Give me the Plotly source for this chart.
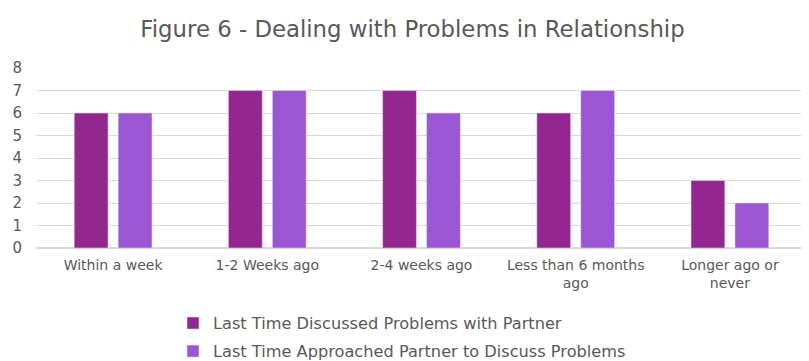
import plotly.graph_objects as go

categories = ["Within a week", "1-2 Weeks ago", "2-4 weeks ago", "Less than 6 months<br>ago", "Longer ago or<br>never"]
discussed = [6, 7, 7, 6, 3]
approached = [6, 7, 6, 7, 2]
series_names = ["Last Time Discussed Problems with Partner", "Last Time Approached Partner to Discuss Problems"]
colors = ["#93278F", "#9B57D3"]

fig = go.Figure()
fig.add_trace(go.Bar(x=categories, y=discussed, name=series_names[0], marker_color=colors[0], legendgroup="a"))
fig.add_trace(go.Bar(x=categories, y=approached, name=series_names[1], marker_color=colors[1], legendgroup="b"))

font_family = "'DejaVu Sans', sans-serif"
fig.update_layout(
    width=809, height=361,
    paper_bgcolor="white", plot_bgcolor="white",
    margin=dict(l=28, r=10, t=60, b=121, autoexpand=False),
    title=dict(text="Figure 6 - Dealing with Problems in Relationship", x=0.5, xanchor="center",
               y=0.995, yanchor="top", pad=dict(t=11),
               font=dict(family=font_family, size=22.8, color="#595959")),
    barmode="group", bargap=0.43, bargroupgap=0.23,
    font=dict(family=font_family, color="#595959", size=14),
    legend=dict(orientation="v", x=165/809, xref="container", xanchor="left",
                y=1 - 298/361, yref="container", yanchor="top",
                font=dict(size=16.2, color="#595959"), tracegroupgap=4),
    showlegend=True,
)
fig.update_yaxes(range=[0, 8], dtick=1, showgrid=True, gridcolor="#d9d9d9", gridwidth=1,
                 zeroline=True, zerolinecolor="#d9d9d9", tickfont=dict(size=15, color="#595959"),
                 ticks="", ticklabelstandoff=13, showline=False, automargin=False)
fig.update_xaxes(showline=True, linecolor="#d9d9d9", ticks="", automargin=False, ticklabelstandoff=4,
                 tickfont=dict(size=14, color="#595959"))

fig.write_html("out.html")
